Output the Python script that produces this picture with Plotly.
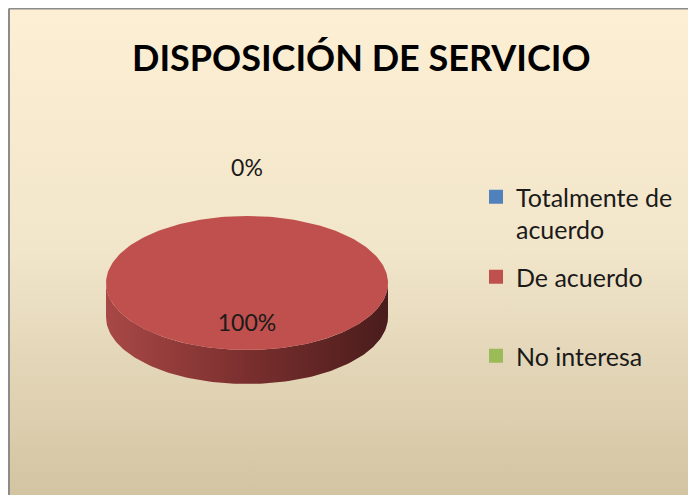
import numpy as np
import plotly.graph_objects as go

# Data ---
categories = ['Totalmente de acuerdo', 'De acuerdo', 'No interesa']
legend_labels = ['Totalmente de<br>acuerdo', 'De acuerdo', 'No interesa']
values = [0, 100, 0]
colors = ['#4F81BD', '#C0504D', '#9BBB59']
side_scales = [
    [[0, '#3E6A9E'], [0.5, '#2C4C73'], [1, '#1C3250']],
    [[0, '#A84846'], [0.5, '#7A2F2E'], [1, '#4A1C1C']],
    [[0, '#809C48'], [0.5, '#5E7434'], [1, '#3E4D22']],
]

# Layout constants (screen pixel space; the page body adds an 8px margin) ---
W, H = 696, 495
OFF = 8
cx, cy = 247, 283
rx, ry = 141, 67
depth = 34
font = 'Lato'

fig = go.Figure()

# Chart area background with vertical gradient
fig.add_trace(go.Scatter(
    x=[10, W, W, 10, 10], y=[9, 9, H, H, 9],
    mode='lines', fill='toself', line=dict(width=0),
    fillgradient=dict(type='vertical',
                      colorscale=[[0, '#D3C4A2'], [0.5, '#F1E5CA'], [1, '#FDEFD3']]),
    hoverinfo='skip', showlegend=False))


def ellipse_pts(t0, t1, dy=0):
    n = max(2, int(abs(t1 - t0) / 1.5) + 2)
    t = np.radians(np.linspace(t0, t1, n))
    return cx + rx * np.sin(t), cy - ry * np.cos(t) + dy


total = sum(values)
start = 0.0
spans = []
for v in values:
    span = 360.0 * v / total
    spans.append((start, start + span))
    start += span

# Front side walls (visible between 90 and 270 degrees)
for (a0, a1), cs in zip(spans, side_scales):
    s, e = max(a0, 90), min(a1, 270)
    if e <= s:
        continue
    xt, yt = ellipse_pts(s, e)
    xb, yb = ellipse_pts(e, s, depth)
    fig.add_trace(go.Scatter(
        x=np.concatenate([xt, xb, xt[:1]]), y=np.concatenate([yt, yb, yt[:1]]),
        mode='lines', fill='toself', line=dict(width=0),
        fillgradient=dict(type='horizontal', colorscale=cs),
        hoverinfo='skip', showlegend=False))

# Top faces
for (a0, a1), c in zip(spans, colors):
    if a1 <= a0:
        continue
    xs, ys = ellipse_pts(a0, a1)
    if a1 - a0 < 360:
        xs = np.concatenate([[cx], xs, [cx]])
        ys = np.concatenate([[cy], ys, [cy]])
    fig.add_trace(go.Scatter(
        x=xs, y=ys, mode='lines', fill='toself', fillcolor=c,
        line=dict(width=0, color=c), hoverinfo='skip', showlegend=False))

# Percentage labels
seen = set()
lx, ly, lt = [], [], []
for (a0, a1), v in zip(spans, values):
    mid = np.radians((a0 + a1) / 2)
    f = 0.63 if v > 0 else 1.69
    px_, py_ = cx + f * rx * np.sin(mid), cy - f * ry * np.cos(mid)
    txt = f'{round(100 * v / total)}%'
    key = (round(px_), round(py_), txt)
    if key in seen:
        continue
    seen.add(key)
    lx.append(px_); ly.append(py_); lt.append(txt)
fig.add_trace(go.Scatter(
    x=lx, y=ly, text=lt, mode='text',
    textfont=dict(family=font, size=23, color='#1a1a1a'),
    hoverinfo='skip', showlegend=False))

# Legend entries, one legend each so spacing matches the original
legend_ys = [174, 277, 356]
legend_names = ['legend', 'legend2', 'legend3']
for name, c, lname in zip(legend_labels, colors, legend_names):
    fig.add_trace(go.Scatter(
        x=[None], y=[None], mode='markers', name=name,
        marker=dict(symbol='square', size=14, color=c),
        legend=lname, showlegend=True))

FW, FH = W - OFF, H - OFF


def py(y):
    return 1 - (y - OFF) / FH


leg_common = dict(x=(476 - OFF) / FW, xanchor='left', bgcolor='rgba(0,0,0,0)',
                  font=dict(family=font, size=25, color='#1a1a1a'),
                  itemclick=False, itemdoubleclick=False)
fig.update_layout(
    legend=dict(y=py(legend_ys[0]), yanchor='top', valign='top', **leg_common),
    legend2=dict(y=py(legend_ys[1]), yanchor='middle', **leg_common),
    legend3=dict(y=py(legend_ys[2]), yanchor='middle', **leg_common),
)

# Title
fig.add_annotation(x=361, y=57, text='<b>DISPOSICIÓN DE SERVICIO</b>',
                   showarrow=False, xanchor='center', yanchor='middle',
                   font=dict(family=font, size=36, color='#000000'))

# Chart border on the top and left
fig.add_shape(type='line', x0=9, y0=8.5, x1=9, y1=H, line=dict(color='#8C8C8C', width=2))
fig.add_shape(type='line', x0=9, y0=8.5, x1=W, y1=8.5, line=dict(color='#8C8C8C', width=2))

fig.update_xaxes(range=[OFF, W], visible=False, fixedrange=True)
fig.update_yaxes(range=[H, OFF], visible=False, fixedrange=True)
fig.update_layout(
    width=FW, height=FH, margin=dict(l=0, r=0, t=0, b=0),
    paper_bgcolor='white', plot_bgcolor='white',
)

fig.write_html('out.html')
